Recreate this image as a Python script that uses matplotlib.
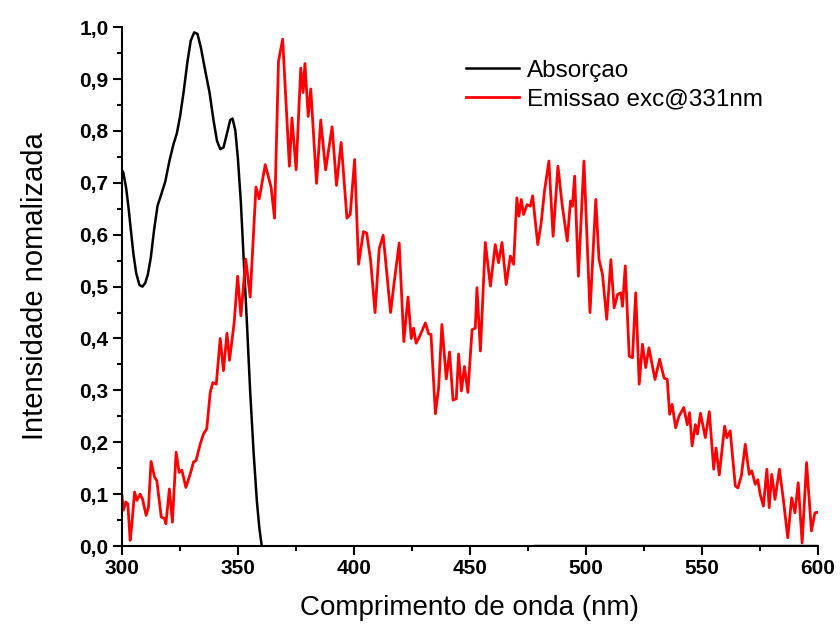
import numpy as np
import matplotlib
matplotlib.use("Agg")
import matplotlib.pyplot as plt
from matplotlib.ticker import MultipleLocator, FuncFormatter

plt.rcParams['font.family'] = ['Liberation Sans', 'DejaVu Sans']

# absorption spectrum (normalised)
abs_nm = [300.0, 300.7, 301.9, 302.9, 303.9, 305.0, 306.2, 307.6, 308.9, 310.1,
          311.2, 312.5, 313.9, 315.4, 316.8, 318.7, 320.5, 322.3, 323.7, 325.1,
          326.6, 328.3, 329.7, 331.2, 332.6, 334.1, 335.9, 337.8, 339.5, 341.0,
          342.4, 343.8, 345.3, 346.7, 347.7, 348.9, 350.0, 351.3, 352.4, 353.9,
          355.3, 356.8, 358.2, 359.3, 360.3, 361.0, 478.0, 600.0]
abs_val = [0.725, 0.719, 0.689, 0.652, 0.609, 0.563, 0.526, 0.503, 0.500, 0.507,
           0.523, 0.556, 0.609, 0.656, 0.675, 0.702, 0.742, 0.775, 0.795, 0.828,
           0.874, 0.934, 0.974, 0.990, 0.987, 0.960, 0.917, 0.874, 0.821, 0.781,
           0.765, 0.768, 0.795, 0.821, 0.824, 0.801, 0.748, 0.662, 0.563, 0.430,
           0.298, 0.179, 0.086, 0.033, 0.0, np.nan, 0.0, 0.0]

# emission spectrum, excitation at 331 nm
em_nm = [300.0, 300.7, 301.7, 302.6, 303.6, 304.3, 305.5, 306.5, 307.9, 308.9,
         310.5, 311.5, 312.6, 314.1, 315.1, 317.0, 318.4, 319.0, 320.5, 321.8,
         323.4, 324.7, 325.9, 327.6, 329.5, 330.9, 332.0, 333.8, 335.2, 336.6,
         338.1, 339.2, 340.7,
         342.4, 343.8, 345.3, 346.4, 348.4, 349.9, 351.3, 353.4, 355.3,
         357.8, 359.2, 361.8, 364.3, 365.8, 367.5, 369.3, 372.2, 373.3, 375.1,
         377.1, 378.1, 378.9, 380.3, 381.4, 383.9, 385.7, 387.8, 390.6, 392.5,
         394.5, 397.0, 398.4, 400.3, 402.0, 404.1, 405.5, 407.2, 409.1, 410.9,
         412.6, 415.8, 417.2, 419.5, 421.5, 423.3, 424.7, 425.7, 426.8, 428.3,
         430.8, 432.2, 433.2, 435.1, 436.5, 437.9, 439.8, 441.2, 442.7, 444.1,
         445.1, 446.3, 447.6, 449.1, 450.9, 452.3, 453.0, 454.5, 456.6, 458.8,
         460.9, 462.3, 463.8, 465.6, 467.4, 468.8, 470.2, 471.1, 472.1, 473.1,
         474.6, 476.0, 477.0, 479.2, 480.6, 482.1, 484.0, 485.8, 487.9, 489.7,
         491.9, 493.3, 494.1, 495.1, 496.7, 499.1, 501.7, 504.2, 505.6, 507.1,
         508.9, 510.7, 512.1, 513.6, 515.0, 515.7, 516.9, 518.6, 520.0, 521.4,
         522.9, 524.3, 525.7, 527.1, 529.7, 531.7, 533.6, 535.0, 536.0, 537.1,
         538.6, 540.0, 542.1, 543.6, 544.6, 545.7, 547.1, 548.0, 549.3, 551.4,
         553.1, 555.0, 556.0, 557.4, 559.7, 560.7, 562.1, 564.3, 565.4, 566.9,
         568.6, 570.3, 571.4, 572.9, 574.0, 575.0, 576.4, 577.9, 578.9, 580.0,
         581.4, 583.3, 585.0, 586.9, 588.6, 590.0, 591.4, 593.1, 595.0, 597.1,
         598.6, 600.0]
em_val = [0.100, 0.069, 0.085, 0.081, 0.011, 0.040, 0.104, 0.088, 0.100, 0.091,
          0.059, 0.075, 0.163, 0.133, 0.126, 0.056, 0.053, 0.043, 0.110, 0.046,
          0.181, 0.142, 0.146, 0.113, 0.139, 0.162, 0.165, 0.197, 0.216, 0.226,
          0.296, 0.315, 0.312,
          0.400, 0.338, 0.410, 0.358, 0.430, 0.520, 0.444, 0.553, 0.480,
          0.692, 0.669, 0.735, 0.692, 0.632, 0.934, 0.977, 0.732, 0.825, 0.725,
          0.921, 0.874, 0.930, 0.828, 0.881, 0.699, 0.821, 0.725, 0.808, 0.695,
          0.778, 0.632, 0.639, 0.745, 0.543, 0.606, 0.603, 0.550, 0.450, 0.573,
          0.599, 0.450, 0.503, 0.584, 0.394, 0.480, 0.400, 0.420, 0.391, 0.404,
          0.430, 0.409, 0.408, 0.255, 0.305, 0.427, 0.322, 0.374, 0.281, 0.284,
          0.370, 0.299, 0.346, 0.296, 0.417, 0.420, 0.498, 0.376, 0.585, 0.501,
          0.581, 0.546, 0.585, 0.504, 0.559, 0.543, 0.671, 0.636, 0.668, 0.639,
          0.658, 0.655, 0.675, 0.581, 0.620, 0.684, 0.742, 0.597, 0.732, 0.658,
          0.588, 0.665, 0.655, 0.713, 0.520, 0.742, 0.450, 0.668, 0.552, 0.523,
          0.437, 0.552, 0.459, 0.485, 0.488, 0.462, 0.540, 0.366, 0.363, 0.488,
          0.312, 0.389, 0.344, 0.382, 0.321, 0.360, 0.324, 0.321, 0.254, 0.273,
          0.228, 0.250, 0.267, 0.234, 0.257, 0.193, 0.234, 0.216, 0.256, 0.209,
          0.259, 0.148, 0.189, 0.137, 0.231, 0.209, 0.222, 0.116, 0.112, 0.135,
          0.196, 0.138, 0.145, 0.119, 0.128, 0.100, 0.077, 0.148, 0.074, 0.138,
          0.090, 0.148, 0.090, 0.016, 0.093, 0.064, 0.122, 0.006, 0.161, 0.029,
          0.064, 0.065]

fig = plt.figure(figsize=(8.4, 6.32), dpi=100)
ax = fig.add_axes([0.145, 0.136, 0.829, 0.821])

ax.plot(abs_nm, abs_val, color='black', lw=1.8, label='Absorçao')
ax.plot(em_nm, em_val, color='red', lw=2.0, label='Emissao exc@331nm')

ax.set_xlim(300, 600)
ax.set_ylim(0, 1.0)
ax.xaxis.set_major_locator(MultipleLocator(50))
ax.xaxis.set_minor_locator(MultipleLocator(25))
ax.yaxis.set_major_locator(MultipleLocator(0.1))
ax.yaxis.set_minor_locator(MultipleLocator(0.05))
ax.yaxis.set_major_formatter(FuncFormatter(lambda v, p: f"{v:.1f}".replace('.', ',')))

for s in ['top', 'right']:
    ax.spines[s].set_visible(False)
for s in ['left', 'bottom']:
    ax.spines[s].set_linewidth(1.5)

ax.tick_params(which='major', direction='out', length=6.5, width=1.5, labelsize=15, pad=3)
ax.tick_params(which='minor', direction='out', length=3.5, width=1.5)
for lab in ax.get_xticklabels() + ax.get_yticklabels():
    lab.set_fontweight('bold')

ax.set_xlabel('Comprimento de onda (nm)', fontsize=20, labelpad=12)
ax.set_ylabel('Intensidade nomalizada', fontsize=21, labelpad=22)

ax.legend(loc='upper left', bbox_to_anchor=(0.494, 0.937), frameon=False,
          fontsize=17.5, handlelength=2.2, handletextpad=0.3, labelspacing=0.28,
          borderpad=0, borderaxespad=0)

fig.savefig('out.png', dpi=100)
